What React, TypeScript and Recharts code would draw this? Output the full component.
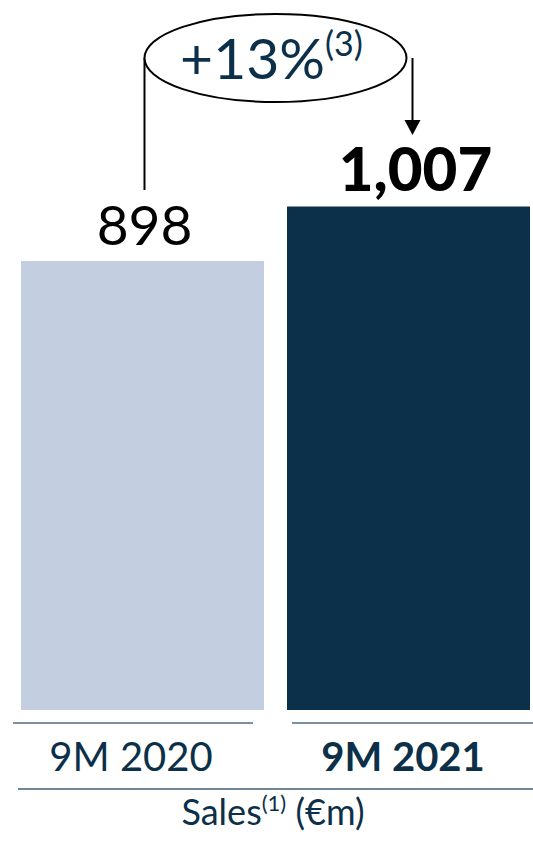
import React from "react";
import { BarChart, Bar, XAxis, YAxis, Cell, LabelList } from "recharts";

const periods = ["9M 2020", "9M 2021"];
const sales = [898, 1007];
const valueLabels = ["898", "1,007"];
const barColors = ["#c3cfe0", "#0c3049"];
const growthLabel = "+13%";
const growthNote = "(3)";
const axisTitle = "Sales";
const axisNote = "(1)";
const axisUnit = " (€m)";

const rows = periods.map((p, i) => ({ period: p, sales: sales[i] }));

const NAVY = "#0c3049";
const FONT = "Lato, 'Open Sans', sans-serif";

function ValueLabel(props: any) {
  const { x, y, width, index } = props;
  const cx = x + width / 2;
  if (index === 0) {
    return (
      <g>
        <line x1={cx + 2} y1={58} x2={cx + 2} y2={190} stroke="#000" strokeWidth={2} />
        <text x={cx + 2} y={y - 16} textAnchor="middle" fontFamily={FONT} fontSize={55} fill="#000">
          {valueLabels[index]}
        </text>
      </g>
    );
  }
  const mid = cx - 133;
  return (
    <g>
      <line x1={cx + 4} y1={58} x2={cx + 4} y2={121} stroke="#000" strokeWidth={2} />
      <polygon points={`${cx - 4},120 ${cx + 12},120 ${cx + 4},135`} fill="#000" />
      <ellipse cx={mid} cy={58} rx={131} ry={44} fill="#fff" stroke="#000" strokeWidth={2} />
      <text x={mid - 4} y={79} textAnchor="middle" fontFamily={FONT} fontWeight={400} fill={NAVY}>
        <tspan fontSize={57}>{growthLabel}</tspan>
        <tspan fontSize={34} dy={-23}>{growthNote}</tspan>
      </text>
      <text x={cx + 7} y={y - 16} textAnchor="middle" fontFamily={FONT} fontWeight={900} fontSize={60} fill="#000">
        {valueLabels[index]}
      </text>
    </g>
  );
}

function PeriodTick(props: any) {
  const { x, payload, index } = props;
  const left = index === 0 ? x - 129 : x - 116;
  const right = index === 0 ? x + 111 : x + 130;
  return (
    <g>
      <line x1={left} y1={723} x2={right} y2={723} stroke="#4f6d82" strokeWidth={1.5} />
      <text
        x={index === 0 ? x - 11 : x - 5}
        y={771}
        textAnchor="middle"
        fontFamily={FONT}
        fontSize={40}
        fontWeight={index === 1 ? 700 : 400}
        fill={NAVY}
      >
        {payload.value}
      </text>
      {index === 0 && (
        <g>
          <line x1={x - 124} y1={789} x2={x + 410} y2={789} stroke="#6d8699" strokeWidth={2} />
          <text x={x + 131} y={825} textAnchor="middle" fontFamily={FONT} fill={NAVY}>
            <tspan fontSize={36}>{axisTitle}</tspan>
            <tspan fontSize={22} dy={-14}>{axisNote}</tspan>
            <tspan fontSize={36} dy={14}>{axisUnit}</tspan>
          </text>
        </g>
      )}
    </g>
  );
}

export default function App() {
  return (
    <div style={{ position: "absolute", left: 0, top: 0, width: 533, height: 842, overflow: "hidden", background: "#fff" }}>
      <BarChart
        width={545}
        height={842}
        data={rows}
        margin={{ top: 160, right: 4, bottom: 0, left: 9 }}
        barSize={243}
      >
        <XAxis
          dataKey="period"
          axisLine={false}
          tickLine={false}
          height={132}
          interval={0}
          tick={<PeriodTick />}
        />
        <YAxis hide domain={[0, 1100]} />
        <Bar dataKey="sales" isAnimationActive={false}>
          {rows.map((r, i) => (
            <Cell key={r.period} fill={barColors[i]} />
          ))}
          <LabelList dataKey="sales" content={<ValueLabel />} />
        </Bar>
      </BarChart>
    </div>
  );
}
